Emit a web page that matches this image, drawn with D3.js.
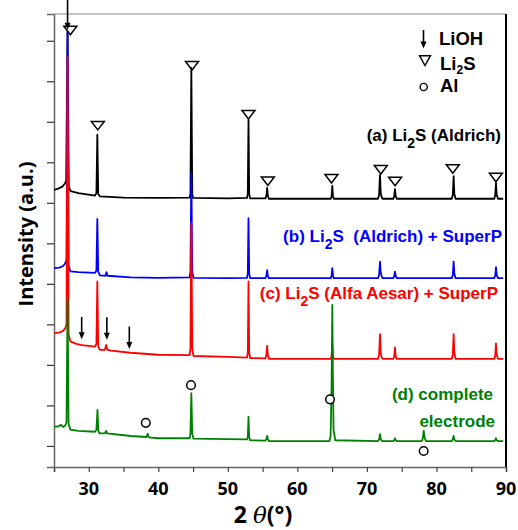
<!DOCTYPE html>
<html>
<head>
<meta charset="utf-8">
<script src="https://cdn.jsdelivr.net/npm/d3@7/dist/d3.min.js"></script>
<style>
  html, body { margin: 0; padding: 0; background: #fff; }
  svg { display: block; }
  text { white-space: pre; }
</style>
</head>
<body>
<svg id="chart" width="518" height="530"></svg>
<script>
// ---------------- DATA ----------------
// 2θ (deg), intensity (a.u., stacked offsets included)
const traceA = [ // (a) Li2S (Aldrich)
  [25.0,6.32],[25.6,6.35],[26.2,6.40],[26.55,6.47],[26.75,6.55],[26.95,10.22],[27.12,6.40],[27.4,6.29],[28.5,6.24],
  [30.9,6.18],[31.1,6.24],[31.23,7.68],[31.36,6.22],[31.6,6.16],[35,6.13],[40,6.12],
  [44.5,6.13],[44.62,6.22],[44.75,9.33],[44.88,6.22],[45.0,6.12],[50,6.11],
  [52.75,6.12],[52.87,6.22],[52.97,8.05],[53.07,6.22],[53.2,6.11],
  [55.4,6.11],[55.55,6.18],[55.65,6.37],[55.75,6.18],[55.9,6.10],
  [64.8,6.10],[64.92,6.16],[65.02,6.42],[65.12,6.16],[65.25,6.10],
  [71.6,6.10],[71.75,6.20],[71.88,6.69],[71.98,6.25],[72.1,6.15],[72.25,6.10],
  [73.8,6.10],[73.93,6.17],[74.03,6.34],[74.13,6.17],[74.3,6.10],
  [82.2,6.10],[82.35,6.20],[82.47,6.66],[82.57,6.22],[82.75,6.10],
  [88.3,6.10],[88.45,6.18],[88.56,6.49],[88.66,6.20],[88.85,6.10],[89.6,6.10]
];
const traceB = [ // (b) Li2S (Aldrich) + SuperP
  [25.0,4.39],[25.8,4.40],[26.3,4.44],[26.6,4.50],[26.8,4.60],[26.95,10.22],[27.1,4.45],[27.35,4.31],[28.5,4.29],
  [30.9,4.27],[31.1,4.33],[31.23,5.60],[31.36,4.30],[31.6,4.21],[32.4,4.20],[32.55,4.29],[32.7,4.20],[36,4.16],[40,4.15],
  [44.5,4.16],[44.62,4.30],[44.75,6.74],[44.88,4.30],[45.05,4.15],[50,4.14],
  [52.75,4.15],[52.87,4.26],[52.97,5.62],[53.07,4.26],[53.2,4.14],
  [55.4,4.14],[55.55,4.20],[55.65,4.34],[55.75,4.20],[55.9,4.14],
  [64.8,4.14],[64.92,4.20],[65.02,4.39],[65.12,4.20],[65.25,4.14],
  [71.6,4.14],[71.75,4.22],[71.88,4.55],[71.98,4.28],[72.1,4.20],[72.25,4.14],
  [73.8,4.14],[73.93,4.20],[74.03,4.30],[74.13,4.20],[74.3,4.14],
  [82.2,4.14],[82.35,4.22],[82.47,4.55],[82.57,4.25],[82.75,4.14],
  [88.3,4.14],[88.45,4.20],[88.56,4.41],[88.66,4.22],[88.85,4.14],[89.6,4.14]
];
const traceC = [ // (c) Li2S (Alfa Aesar) + SuperP
  [25.0,2.78],[25.8,2.80],[26.3,2.84],[26.6,2.90],[26.8,3.00],[26.95,9.60],[27.1,2.75],[27.35,2.58],[28.2,2.52],[29.0,2.49],
  [30.9,2.45],[31.1,2.52],[31.23,4.06],[31.36,2.45],[31.6,2.37],[32.3,2.37],[32.5,2.49],[32.7,2.37],[33.2,2.35],[36,2.30],[40,2.25],
  [44.5,2.24],[44.62,2.40],[44.75,5.50],[44.88,2.40],[45.05,2.22],[50,2.20],
  [52.75,2.18],[52.87,2.30],[52.97,4.06],[53.07,2.30],[53.2,2.17],
  [55.4,2.16],[55.55,2.25],[55.65,2.47],[55.75,2.25],[55.9,2.15],
  [64.8,2.15],[64.92,2.22],[65.02,2.52],[65.12,2.22],[65.25,2.15],
  [71.6,2.15],[71.75,2.25],[71.88,2.76],[71.98,2.30],[72.1,2.20],[72.25,2.15],
  [73.8,2.15],[73.93,2.22],[74.03,2.43],[74.13,2.22],[74.3,2.15],
  [82.2,2.15],[82.35,2.25],[82.47,2.76],[82.57,2.30],[82.75,2.15],
  [88.3,2.15],[88.45,2.22],[88.56,2.53],[88.66,2.25],[88.85,2.15],[89.6,2.15]
];
const traceD = [ // (d) complete electrode
  [25.0,0.475],[25.6,0.48],[26.0,0.52],[26.3,0.47],[26.6,0.50],[26.8,0.58],[26.95,3.63],[27.1,0.55],[27.35,0.40],[28.5,0.37],
  [30.9,0.35],[31.1,0.40],[31.25,0.89],[31.38,0.36],[31.6,0.31],[32.35,0.31],[32.5,0.37],[32.65,0.31],[36,0.245],
  [38.3,0.22],[38.47,0.30],[38.65,0.21],[40,0.19],
  [44.5,0.19],[44.62,0.30],[44.75,1.30],[44.88,0.30],[45.05,0.18],[50,0.17],
  [52.75,0.16],[52.87,0.22],[52.97,0.72],[53.07,0.22],[53.2,0.14],
  [55.4,0.13],[55.55,0.17],[55.65,0.25],[55.75,0.17],[55.9,0.12],
  [64.6,0.12],[64.78,0.25],[64.92,1.50],[65.02,3.48],[65.1,1.80],[65.2,0.40],[65.45,0.14],
  [71.6,0.12],[71.75,0.16],[71.88,0.29],[72.0,0.16],[72.2,0.12],
  [73.8,0.12],[73.93,0.14],[74.03,0.19],[74.13,0.14],[74.3,0.12],
  [77.9,0.12],[78.05,0.20],[78.17,0.38],[78.3,0.20],[78.5,0.12],
  [82.2,0.12],[82.35,0.16],[82.47,0.25],[82.57,0.16],[82.75,0.12],
  [88.3,0.12],[88.45,0.14],[88.56,0.19],[88.66,0.14],[88.85,0.12],[89.6,0.12]
];
// Li2S reflection markers (triangle apex position)
const li2sMarks = [[27.35,10.15],[31.3,7.80],[44.85,9.28],[52.97,8.07],[55.75,6.43],[64.9,6.49],[72.0,6.71],[74.05,6.42],[82.35,6.73],[88.55,6.52]];
// Al reflection markers (circle centre)
const alMarks = [[38.2,0.57],[44.7,1.50],[64.69,1.15],[78.16,-0.125]];
// LiOH arrows (tip position)
const liohArrows = [[28.98,2.63],[32.6,2.62],[35.83,2.39]];
const liohTopArrow = [[26.95,10.27]];
// axes
const xDomain = [25, 90];
const yDomain = [-0.52, 10.66];
const xTickValues = [25,30,35,40,45,50,55,60,65,70,75,80,85,90];
const xTickLabels = [30,40,50,60,70,80,90];
const yTickValues = [0,1,2,3,4,5,6,7,8,9,10];
const seriesColors = ["#000000","#0000ff","#ff0000","#008000"];

// ---------------- CHART ----------------
const svg = d3.select("#chart");
const L = 54, R = 506, T = 14, B = 467;
const x = d3.scaleLinear().domain(xDomain).range([L, R]);
const y = d3.scaleLinear().domain(yDomain).range([B, T]);

svg.append("defs").append("clipPath").attr("id","plotclip")
  .append("rect").attr("x",L).attr("y",T).attr("width",R-L).attr("height",B-T);

// axes
const xAxis = d3.axisBottom(x).tickValues(xTickValues).tickSize(5).tickFormat("");
svg.append("g").attr("transform",`translate(0,${B})`).call(xAxis)
  .call(g => { g.select(".domain").attr("stroke","#666").attr("stroke-width",1.5);
               g.selectAll(".tick line").attr("stroke","#444").attr("stroke-width",1.2); });
const yAxis = d3.axisLeft(y).tickValues(yTickValues).tickSize(7).tickFormat("");
svg.append("g").attr("transform",`translate(${L},0)`).call(yAxis)
  .call(g => { g.select(".domain").attr("stroke","#666").attr("stroke-width",1.5);
               g.selectAll(".tick line").attr("stroke","#333").attr("stroke-width",1.2); });
// frame
svg.append("line").attr("x1",L).attr("x2",R).attr("y1",T).attr("y2",T).attr("stroke","#8a8a8a").attr("stroke-width",1.2);
svg.append("line").attr("x1",R).attr("x2",R).attr("y1",T).attr("y2",B).attr("stroke","#000").attr("stroke-width",2);

// tick labels
svg.append("g").selectAll("text").data(xTickLabels).join("text")
  .attr("x", d => x(d)).attr("y", 495).attr("text-anchor","middle")
  .attr("font-family","'Open Sans', sans-serif").attr("font-weight","bold").attr("font-size",18)
  .text(d => d);

// axis titles
const xt = svg.append("text").attr("x", 263).attr("y", 523).attr("text-anchor","middle")
  .attr("font-family","'Open Sans', sans-serif").attr("font-weight","bold").attr("font-size",23);
xt.append("tspan").text("2 ");
xt.append("tspan").attr("font-style","italic").attr("font-weight","normal").attr("font-family","'DejaVu Serif', serif").text("θ");
xt.append("tspan").text("(°)");

svg.append("text").attr("transform","translate(33,234) rotate(-90)").attr("text-anchor","middle")
  .attr("font-family","'Open Sans', sans-serif").attr("font-weight","bold").attr("font-size",20)
  .text("Intensity (a.u.)");

// traces
const line = d3.line().x(d => x(d[0])).y(d => y(d[1]));
const plot = svg.append("g").attr("clip-path","url(#plotclip)");
[traceA, traceB, traceC, traceD].forEach((tr, i) => {
  plot.append("path").datum(tr).attr("d", line).attr("fill","none")
    .attr("stroke", seriesColors[i]).attr("stroke-width",1.8).attr("stroke-linejoin","round");
});

// Li2S triangles
svg.append("g").selectAll("path").data(li2sMarks).join("path")
  .attr("transform", d => `translate(${x(d[0])},${y(d[1])})`)
  .attr("d","M-6.5,-8.5L6.5,-8.5L0,0Z")
  .attr("fill","none").attr("stroke","#000").attr("stroke-width",1.5).attr("stroke-linejoin","miter");

// Al circles
svg.append("g").selectAll("circle").data(alMarks).join("circle")
  .attr("cx", d => x(d[0])).attr("cy", d => y(d[1])).attr("r",4.3)
  .attr("fill","#fff").attr("stroke","#000").attr("stroke-width",1.5);

// arrows
function arrow(g, xt, yt, len) {
  g.append("line").attr("x1",xt).attr("x2",xt).attr("y1",yt-len).attr("y2",yt-5)
    .attr("stroke","#000").attr("stroke-width",1.6);
  g.append("path").attr("d",`M${xt-3},${yt-7}L${xt+3},${yt-7}L${xt},${yt}Z`).attr("fill","#000");
}
const ag = svg.append("g");
liohArrows.forEach(d => arrow(ag, x(d[0]), y(d[1]), 22.5));
liohTopArrow.forEach(d => arrow(ag, x(d[0]), y(d[1]), 30));

// legend
const lg = svg.append("g").attr("font-family","'Liberation Sans', Arial, sans-serif").attr("font-weight","bold").attr("font-size",18.5);
arrow(lg, 423.5, 48.5, 18.5);
lg.append("text").attr("x",439).attr("y",44.5).text("LiOH");
lg.append("path").attr("d","M419.5,55.7L430.5,55.7L425,65.5Z").attr("fill","none").attr("stroke","#000").attr("stroke-width",1.4);
const ll = lg.append("text").attr("x",440).attr("y",69.5);
ll.append("tspan").text("Li");
ll.append("tspan").attr("font-size",12).attr("dy",4).text("2");
ll.append("tspan").attr("dy",-4).text("S");
lg.append("circle").attr("cx",423.7).attr("cy",87).attr("r",3.6).attr("fill","none").attr("stroke","#000").attr("stroke-width",1.4);
lg.append("text").attr("x",440).attr("y",92).text("Al");

// series labels
function seriesLabel(xe, yb, color, pre, post) {
  const t = svg.append("text").attr("x",xe).attr("y",yb).attr("text-anchor","end")
    .attr("font-family","'Liberation Sans', Arial, sans-serif").attr("font-weight","bold").attr("font-size",17)
    .attr("fill",color);
  t.append("tspan").text(pre);
  t.append("tspan").attr("font-size",14).attr("dy",7).text("2");
  t.append("tspan").attr("dy",-7).text(post);
}
seriesLabel(501, 141, seriesColors[0], "(a) Li", "S (Aldrich)");
seriesLabel(502, 242, seriesColors[1], "(b) Li", "S  (Aldrich) + SuperP");
seriesLabel(498, 298.5, seriesColors[2], "(c) Li", "S (Alfa Aesar) + SuperP");
svg.append("text").attr("x",493).attr("y",400).attr("text-anchor","end")
  .attr("font-family","'Liberation Sans', Arial, sans-serif").attr("font-weight","bold").attr("font-size",17)
  .attr("fill",seriesColors[3]).text("(d) complete");
svg.append("text").attr("x",495).attr("y",426.5).attr("text-anchor","end")
  .attr("font-family","'Liberation Sans', Arial, sans-serif").attr("font-weight","bold").attr("font-size",17)
  .attr("fill",seriesColors[3]).text("electrode");
</script>
</body>
</html>
